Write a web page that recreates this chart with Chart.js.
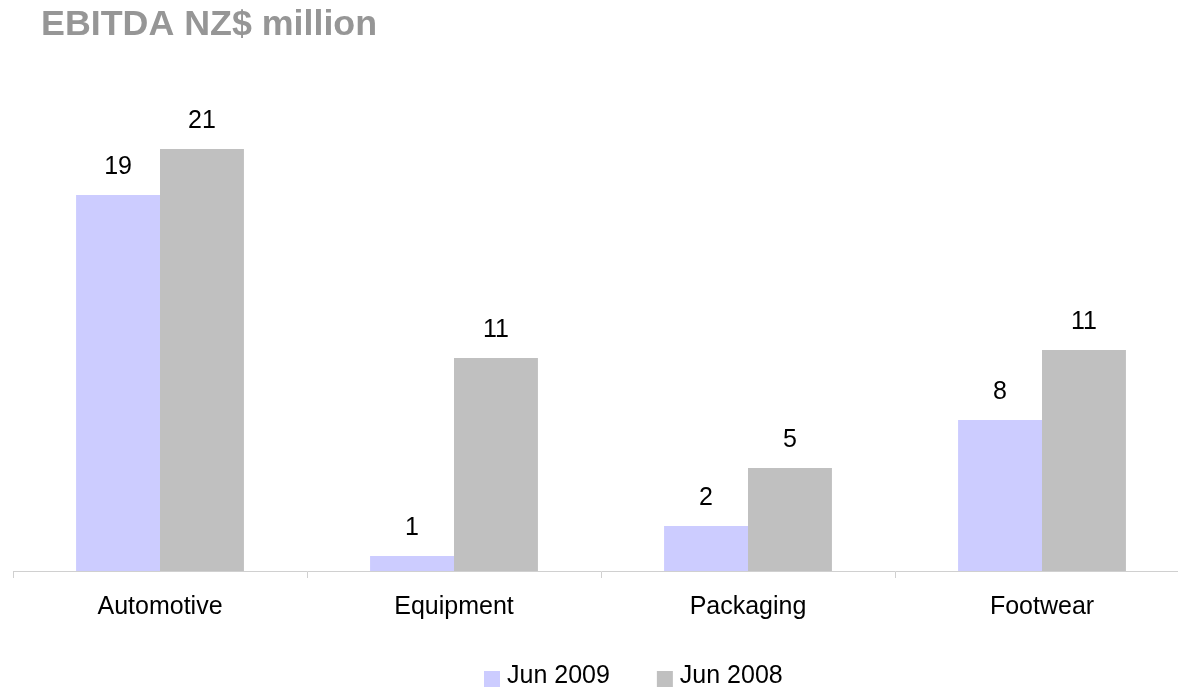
<!DOCTYPE html>
<html>
<head>
<meta charset="utf-8">
<script src="https://cdn.jsdelivr.net/npm/chart.js@4/dist/chart.umd.min.js"></script>
<style>
  html, body { margin: 0; padding: 0; background: #fff; overflow: hidden; }
  #wrap { position: relative; width: 1178px; height: 687px; overflow: hidden; }
  #wrap canvas { position: absolute; left: 0; top: 0; }
</style>
</head>
<body>
<div id="wrap"><canvas id="ebitdaChart" width="1200" height="687"></canvas></div>
<script>
// values (NZ$ million), labels show them rounded
const categories = ['Automotive', 'Equipment', 'Packaging', 'Footwear'];
const seriesNames = ['Jun 2009', 'Jun 2008'];
const jun2009 = [18.8, 0.75, 2.25, 7.55];
const jun2008 = [21.1, 10.65, 5.15, 11.05];
const titleText = 'EBITDA NZ$ million';

const FONT = '"Liberation Sans", Arial, Helvetica, sans-serif';

// title, value labels and legend are painted here
const decorPlugin = {
    id: 'decor',
    afterDatasetsDraw(chart) {
        const ctx = chart.ctx;
        ctx.save();
        ctx.font = '25px ' + FONT;
        ctx.fillStyle = '#000';
        ctx.textAlign = 'center';
        ctx.textBaseline = 'alphabetic';
        chart.data.datasets.forEach((ds, i) => {
            chart.getDatasetMeta(i).data.forEach((bar, j) => {
                ctx.fillText(Math.round(ds.data[j]).toString(), bar.x, bar.y - 21);
            });
        });
        ctx.restore();
    },
    afterDraw(chart) {
        const ctx = chart.ctx;
        ctx.save();
        // title
        ctx.font = 'bold 35.8px ' + FONT;
        ctx.fillStyle = '#969696';
        ctx.textAlign = 'left';
        ctx.textBaseline = 'alphabetic';
        ctx.fillText(titleText, 41, 35);

        // legend
        ctx.font = '25px ' + FONT;
        let x = 484;
        chart.data.datasets.forEach(ds => {
            ctx.fillStyle = ds.backgroundColor;
            ctx.fillRect(x, 671, 16, 16);
            ctx.fillStyle = '#000';
            ctx.fillText(ds.label, x + 23, 683);
            x += 23 + ctx.measureText(ds.label).width + 47;
        });
        ctx.restore();
    }
};

new Chart(document.getElementById('ebitdaChart').getContext('2d'), {
    type: 'bar',
    data: {
        labels: categories,
        datasets: [
            { label: seriesNames[0], data: jun2009, backgroundColor: '#CCCCFF', borderWidth: 0 },
            { label: seriesNames[1], data: jun2008, backgroundColor: '#C0C0C0', borderWidth: 0 }
        ]
    },
    options: {
        responsive: false,
        animation: false,
        layout: { padding: { left: 13, right: 11, top: 71, bottom: 0 } },
        datasets: { bar: { categoryPercentage: 0.571, barPercentage: 1.0 } },
        plugins: {
            legend: { display: false },
            title: { display: false },
            tooltip: { enabled: false }
        },
        scales: {
            x: {
                grid: {
                    display: true,
                    offset: true,
                    drawOnChartArea: false,
                    drawTicks: true,
                    tickLength: 7,
                    color: '#D0D0D0'
                },
                border: { display: true, color: '#D0D0D0', width: 1 },
                ticks: {
                    padding: 14,
                    color: '#000',
                    font: { family: FONT, size: 25 },
                    maxRotation: 0
                },
                afterFit: scale => { scale.height = 116; }
            },
            y: {
                display: false,
                min: 0,
                max: 25
            }
        }
    },
    plugins: [decorPlugin]
});
</script>
</body>
</html>
